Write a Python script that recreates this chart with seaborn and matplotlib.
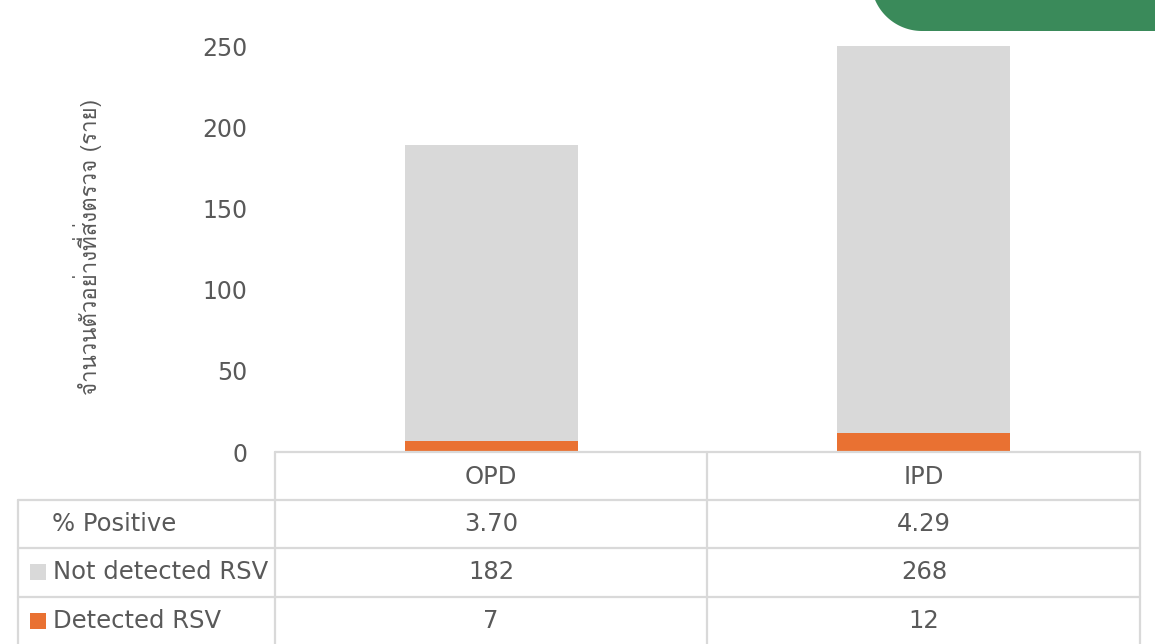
import numpy as np
import pandas as pd
import matplotlib
matplotlib.use("Agg")
import matplotlib.pyplot as plt
from matplotlib.patches import Polygon
from matplotlib.transforms import IdentityTransform
from matplotlib import font_manager
import seaborn as sns

categories = ["OPD", "IPD"]
not_detected = [182, 268]
detected = [7, 12]
pct_positive = ["3.70", "4.29"]
row_labels = ["% Positive", "Not detected RSV", "Detected RSV"]
yticks = [0, 50, 100, 150, 200, 250]
ylabel = "จำนวนตัวอย่างที่ส่งตรวจ (ราย)"

GRAY = "#D9D9D9"
ORANGE = "#E97132"
TXT = "#595959"
GRID = "#D9D9D9"

sns.set_theme(style="white")

# find a font that has Thai glyphs
thai_family = None
try:
    from fontTools.ttLib import TTFont
    for f in font_manager.fontManager.ttflist:
        try:
            tt = TTFont(f.fname, fontNumber=0, lazy=True)
            cmap = tt.getBestCmap()
            if cmap and ord("จ") in cmap:
                thai_family = f.name
                break
        except Exception:
            pass
except Exception:
    pass

base = "DejaVu Sans"
plt.rcParams["font.family"] = [base]

W, H = 1155, 644
fig = plt.figure(figsize=(W / 100, H / 100), dpi=100)

def fx(px):
    return px / W

def fy(py):
    return 1 - py / H

ax = fig.add_axes([fx(275), fy(452), fx(1140) - fx(275), fy(46) - fy(452)])

df = pd.DataFrame({"cat": categories,
                   "total": np.array(not_detected) + np.array(detected),
                   "det": detected})
sns.barplot(data=df, x="cat", y="total", color=GRAY, width=0.4, ax=ax,
            saturation=1, edgecolor="none")
sns.barplot(data=df, x="cat", y="det", color=ORANGE, width=0.4, ax=ax,
            saturation=1, edgecolor="none")
ax.set_ylim(0, 250)
ax.set_xlim(-0.5, 1.5)
ax.set_yticks(yticks)
ax.set_yticklabels([str(t) for t in yticks], color=TXT, fontsize=17)
ax.tick_params(axis="y", length=0, pad=20)
ax.tick_params(axis="x", length=0, labelbottom=False)
ax.set_xlabel("")
ax.set_ylabel("")
for s in ["top", "right", "left", "bottom"]:
    ax.spines[s].set_visible(False)

fam = [thai_family, base] if thai_family else [base]
fig.text(fx(88), fy(247), ylabel, rotation=90, ha="center", va="center",
         color=TXT, fontsize=16, family=fam)

# data table
lw = 1.6
def hline(y, x0, x1):
    fig.add_artist(plt.Line2D([fx(x0), fx(x1)], [fy(y), fy(y)], color=GRID, lw=lw))

def vline(x, y0, y1):
    fig.add_artist(plt.Line2D([fx(x), fx(x)], [fy(y0), fy(y1)], color=GRID, lw=lw))

hline(452, 275, 1140)
for y in [500, 548, 597]:
    hline(y, 18, 1140)
for x in [275, 707, 1140]:
    vline(x, 452, 644)
vline(18, 500, 644)

col_cx = [491, 924]
fs = 17.5
for cx, c in zip(col_cx, categories):
    fig.text(fx(cx), fy(477), c, ha="center", va="center", color=TXT, fontsize=fs)
rows_y = [524, 572, 621]
for i, cx in enumerate(col_cx):
    vals = [pct_positive[i], str(not_detected[i]), str(detected[i])]
    for ry, v in zip(rows_y, vals):
        fig.text(fx(cx), fy(ry), v, ha="center", va="center", color=TXT, fontsize=fs)

fig.text(fx(52), fy(524), row_labels[0], ha="left", va="center", color=TXT, fontsize=fs)
for ry, lab, col in zip(rows_y[1:], row_labels[1:], [GRAY, ORANGE]):
    fig.add_artist(plt.Rectangle((fx(30), fy(ry + 8)), fx(16), fy(ry - 8) - fy(ry + 8),
                                 color=col, lw=0))
    fig.text(fx(53), fy(ry), lab, ha="left", va="center", color=TXT, fontsize=fs)

# green decorative shape top right (pixel coordinates, y measured from top)
cxp, cyp, r = 922, -20, 51
theta = np.linspace(np.pi / 2, np.pi, 40)  # lower-left quarter in top-down coords
arc = [(cxp - r * np.sin(t - np.pi / 2) * 1.0, cyp + r * np.cos(t - np.pi / 2)) for t in theta]
# build points: bottom-left arc from left edge down to bottom
angs = np.linspace(np.pi, np.pi / 2, 60)
pts = [(cxp + r * np.cos(a), cyp + r * np.sin(a)) for a in angs]
pts = [(x, y) for x, y in pts]
poly_pts = [(cxp - r, -100)] + pts + [(1200, cyp + r), (1200, -100)]
disp = [(x, H - y) for x, y in poly_pts]
fig.add_artist(Polygon(disp, closed=True, transform=IdentityTransform(),
                       facecolor="#3A8A5A", edgecolor="none"))

fig.savefig("out.png", dpi=100)
